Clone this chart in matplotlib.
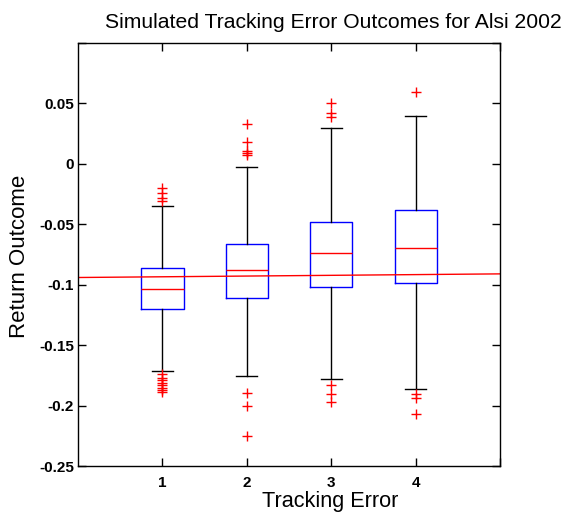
import matplotlib
matplotlib.use('Agg')
import matplotlib.pyplot as plt

plt.rcParams['font.family'] = ['Liberation Sans', 'DejaVu Sans']

# values
groups = [1, 2, 3, 4]
medians = [-0.1037, -0.0882, -0.0739, -0.0697]
q1s = [-0.1202, -0.1106, -0.1015, -0.0984]
q3s = [-0.0863, -0.0659, -0.0483, -0.0380]
whis_lo = [-0.1710, -0.1753, -0.1780, -0.1864]
whis_hi = [-0.0350, -0.0022, 0.0295, 0.0400]
outliers = [
    [-0.020, -0.024, -0.028, -0.031,
     -0.174, -0.177, -0.179, -0.181, -0.183, -0.185, -0.187, -0.189],
    [0.0329, 0.0184, 0.0110, 0.0093, 0.0074, -0.1897, -0.2007, -0.2250],
    [0.050, 0.042, 0.039, -0.183, -0.1905, -0.197],
    [0.0593, -0.1905, -0.194, -0.2068],
]
# red reference line across the axes
line_x = [0, 5]
line_y = [-0.094, -0.091]

stats = []
for i in range(len(groups)):
    stats.append({'med': medians[i], 'q1': q1s[i], 'q3': q3s[i],
                  'whislo': whis_lo[i], 'whishi': whis_hi[i],
                  'fliers': outliers[i]})

fig = plt.figure(figsize=(5.73, 5.15), dpi=100)
ax = fig.add_axes([0.136, 0.095, 0.737, 0.8215])

ax.bxp(stats, positions=groups, widths=0.5, showfliers=True,
       boxprops=dict(color='blue', linewidth=1),
       medianprops=dict(color='red', linewidth=1),
       whiskerprops=dict(color='black', linewidth=1),
       capprops=dict(color='black', linewidth=1),
       capwidths=0.25,
       flierprops=dict(marker='+', markeredgecolor='red', markersize=7,
                       markeredgewidth=1, linestyle='none'))

ax.plot(line_x, line_y, color='red', linewidth=1)

ax.set_xlim(0, 5)
ax.set_ylim(-0.25, 0.1)
ax.set_xticks([1, 2, 3, 4, 5])
ax.set_xticklabels(['1', '2', '3', '4', ''])
ax.set_yticks([-0.25, -0.2, -0.15, -0.1, -0.05, 0, 0.05, 0.1])
ax.set_yticklabels(['-0.25', '-0.2', '-0.15', '-0.1', '-0.05', '0', '0.05', ''])
ax.tick_params(direction='in', length=6, width=1, top=True, right=True,
               labelsize=11)
ax.tick_params(axis='x', pad=7)
ax.tick_params(axis='y', pad=3)
for lab in ax.get_xticklabels() + ax.get_yticklabels():
    lab.set_fontweight('bold')
for s in ax.spines.values():
    s.set_linewidth(1)

fig.text(0.581, 1 - 22 / 515, 'Simulated Tracking Error Outcomes for Alsi 2002',
         ha='center', va='center', fontsize=15.2)
fig.text(0.576, 1 - 507 / 515, 'Tracking Error', ha='center', va='baseline',
         fontsize=15.6)
fig.text(0.034, 1 - 256 / 515, 'Return Outcome', ha='center', va='center',
         rotation=90, fontsize=16)

fig.savefig('out.png', dpi=100)
